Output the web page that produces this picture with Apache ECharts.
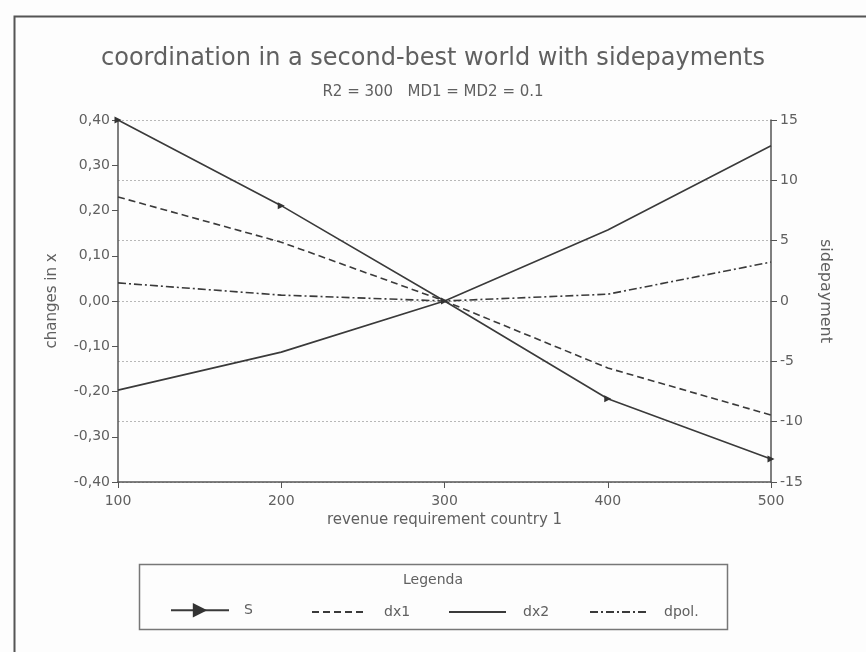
<!DOCTYPE html>
<html>
<head>
<meta charset="utf-8">
<script src="https://cdn.jsdelivr.net/npm/echarts@6/dist/echarts.min.js"></script>
<style>
html,body{margin:0;padding:0;background:#fdfdfd;}
#chart{width:866px;height:652px;}
</style>
</head>
<body>
<div id="chart"></div>
<script>
// ---- data ----
var xValues = [100, 200, 300, 400, 500];
var sValues = [15, 7.9, 0, -8.1, -13.1];          // S (sidepayment, right axis)
var dx1Values = [0.23, 0.13, 0, -0.148, -0.252];  // dx1 (left axis)
var dx2Values = [-0.197, -0.113, 0, 0.157, 0.343];// dx2 (left axis)
var dpolValues = [0.04, 0.013, 0, 0.015, 0.086];  // dpol. (left axis)
var seriesNames = ['S', 'dx1', 'dx2', 'dpol.'];
var titleText = 'coordination in a second-best world with sidepayments';
var subtitleText = 'R2 = 300   MD1 = MD2 = 0.1';

function pairs(ys) { return xValues.map(function (x, i) { return [x, ys[i]]; }); }

var FONT = "'DejaVu Sans', sans-serif";
var TXT = '#606060';
var LINE = '#3a3a3a';

var chart = echarts.init(document.getElementById('chart'), null, {renderer: 'canvas'});

var legendCommon = {
  orient: 'horizontal', top: 600, itemHeight: 14, selectedMode: false,
  textStyle: {fontFamily: FONT, fontSize: 14, color: TXT}
};
function legendFor(i, left, width, pad, hideSymbol, h) {
  var item = {name: seriesNames[i]};
  if (hideSymbol) item.itemStyle = {opacity: 0};
  var ih = h || 14;
  return Object.assign({}, legendCommon, {
    data: [item], left: left, itemWidth: width, itemHeight: ih, top: 607 - ih / 2,
    textStyle: Object.assign({}, legendCommon.textStyle, {padding: [0, 0, 0, pad]})
  });
}

var option = {
  backgroundColor: '#fdfdfd',
  animation: false,
  title: [
    {text: titleText, left: 'center', top: 42,
     textStyle: {fontFamily: FONT, fontSize: 24, fontWeight: 'normal', color: TXT}},
    {text: subtitleText, left: 'center', top: 80,
     textStyle: {fontFamily: FONT, fontSize: 15, fontWeight: 'normal', color: TXT}},
    {text: 'Legenda', left: 'center', top: 568,
     textStyle: {fontFamily: FONT, fontSize: 14, fontWeight: 'normal', color: TXT}}
  ],
  grid: {left: 118, right: 95, top: 120, bottom: 170, containLabel: false},
  xAxis: {
    type: 'value', min: 100, max: 500, interval: 100,
    name: 'revenue requirement country 1', nameLocation: 'middle', nameGap: 28,
    nameTextStyle: {fontFamily: FONT, fontSize: 15, color: TXT},
    axisLine: {onZero: false, lineStyle: {color: '#555', width: 1.5}},
    axisTick: {show: true, length: 6, lineStyle: {color: '#555'}},
    axisLabel: {fontFamily: FONT, fontSize: 14, color: TXT, margin: 12},
    splitLine: {show: false}
  },
  yAxis: [
    {
      type: 'value', min: -0.4, max: 0.4, interval: 0.1, position: 'left',
      name: 'changes in x', nameLocation: 'middle', nameGap: 58,
      nameTextStyle: {fontFamily: FONT, fontSize: 15, color: TXT},
      axisLine: {show: true, onZero: false, lineStyle: {color: '#555', width: 1.5}},
      axisTick: {show: true, length: 6, lineStyle: {color: '#555'}},
      axisLabel: {fontFamily: FONT, fontSize: 14, color: TXT, margin: 8,
        formatter: function (v) { if (Math.abs(v) < 1e-9) v = 0; return v.toFixed(2).replace('.', ','); }},
      splitLine: {show: false}
    },
    {
      type: 'value', min: -15, max: 15, interval: 5, position: 'right',
      name: 'sidepayment', nameLocation: 'middle', nameGap: 46, nameRotate: -90,
      nameTextStyle: {fontFamily: FONT, fontSize: 16, color: TXT, padding: [0, 20, 0, 0]},
      axisLine: {show: true, onZero: false, lineStyle: {color: '#555', width: 1.5}},
      axisTick: {show: true, length: 6, lineStyle: {color: '#555'}},
      axisLabel: {fontFamily: FONT, fontSize: 14, color: TXT, margin: 9},
      splitLine: {show: true, lineStyle: {color: '#b8b8b8', type: [2, 2], width: 1}}
    }
  ],
  legend: [
    legendFor(0, 165, 58, 10, false, 18),
    legendFor(1, 306, 51, 16, true),
    legendFor(2, 443, 57, 12, true),
    legendFor(3, 584, 57, 12, true)
  ],
  series: [
    {name: seriesNames[0], type: 'line', yAxisIndex: 1, data: pairs(sValues),
     symbol: 'triangle', symbolRotate: -90, symbolSize: 7, showSymbol: true,
     lineStyle: {color: LINE, width: 1.6}, itemStyle: {color: '#333'}, z: 5},
    {name: seriesNames[1], type: 'line', yAxisIndex: 0, data: pairs(dx1Values),
     symbol: 'none', lineStyle: {color: LINE, width: 1.6, type: [7, 4]}, itemStyle: {color: LINE}},
    {name: seriesNames[2], type: 'line', yAxisIndex: 0, data: pairs(dx2Values),
     symbol: 'none', lineStyle: {color: LINE, width: 1.6}, itemStyle: {color: LINE}},
    {name: seriesNames[3], type: 'line', yAxisIndex: 0, data: pairs(dpolValues),
     symbol: 'none', lineStyle: {color: LINE, width: 1.6, type: [8, 3, 2, 3]}, itemStyle: {color: LINE}}
  ],
  graphic: [
    {type: 'rect', left: 12, top: 14, z: -1, silent: true,
     shape: {width: 900, height: 700}, style: {fill: 'none', stroke: '#555', lineWidth: 2}},
    {type: 'rect', left: 137, top: 562, z: -1, silent: true,
     shape: {width: 588, height: 65}, style: {fill: 'none', stroke: '#777', lineWidth: 1.5}}
  ]
};
chart.setOption(option);
</script>
</body>
</html>
